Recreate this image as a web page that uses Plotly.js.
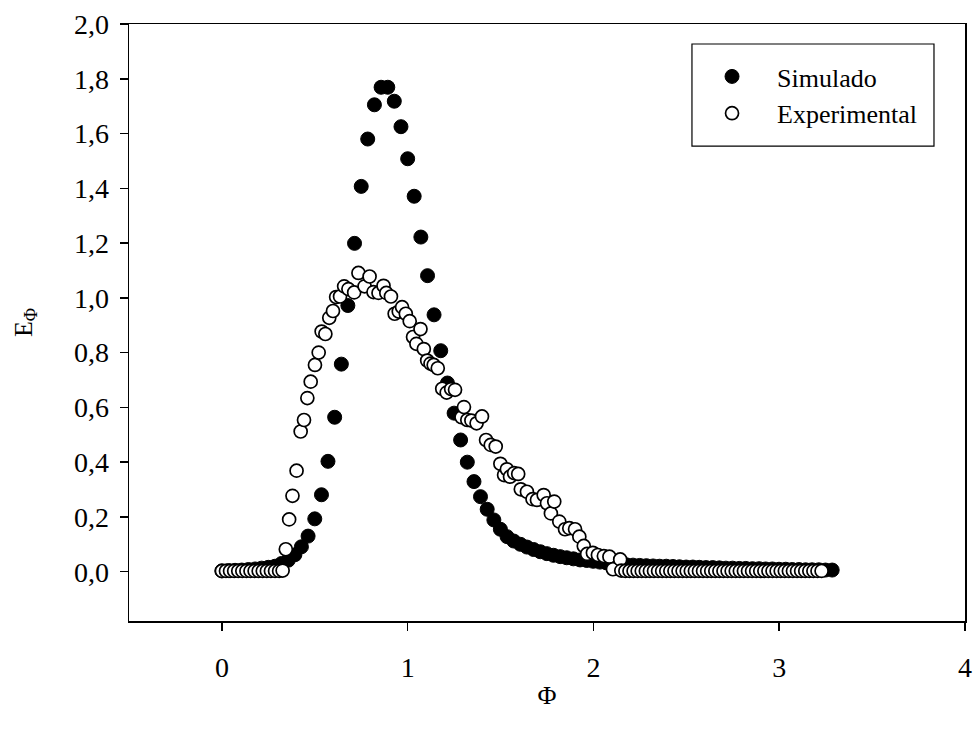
<!DOCTYPE html>
<html>
<head>
<meta charset="utf-8">
<script src="https://cdn.plot.ly/plotly-3.0.1.min.js"></script>
<style>html,body{margin:0;padding:0;background:#fff;}#chart{width:975px;height:731px;}</style>
</head>
<body>
<div id="chart"></div>
<script>
// Simulado (filled circles)
const simX = [0.000,0.036,0.071,0.107,0.143,0.179,0.214,0.250,0.286,0.321,0.357,0.393,0.428,0.464,0.500,0.536,0.571,0.607,0.643,0.678,
0.714,0.750,0.785,0.821,0.857,0.893,0.928,0.964,1.000,1.035,1.071,1.107,1.142,1.178,1.214,1.250,1.285,1.321,1.357,1.392,
1.428,1.464,1.499,1.535,1.571,1.607,1.642,1.678,1.714,1.749,1.785,1.821,1.856,1.892,1.928,1.964,1.999,2.035,2.071,2.106,
2.142,2.178,2.213,2.249,2.285,2.321,2.356,2.392,2.428,2.463,2.499,2.535,2.570,2.606,2.642,2.678,2.713,2.749,2.785,2.820,
2.856,2.892,2.927,2.963,2.999,3.035,3.070,3.106,3.142,3.177,3.213,3.249,3.285];
const simY = [0.003,0.004,0.005,0.006,0.008,0.010,0.013,0.016,0.020,0.030,0.042,0.062,0.091,0.130,0.193,0.281,0.403,0.564,0.758,0.972,
1.199,1.407,1.580,1.705,1.769,1.769,1.718,1.625,1.508,1.371,1.222,1.081,0.938,0.807,0.689,0.579,0.481,0.400,0.329,0.274,
0.228,0.189,0.155,0.128,0.112,0.100,0.090,0.081,0.073,0.066,0.060,0.055,0.051,0.047,0.043,0.041,0.038,0.035,0.032,0.030,
0.027,0.025,0.024,0.023,0.022,0.021,0.020,0.020,0.019,0.018,0.017,0.017,0.016,0.015,0.015,0.014,0.013,0.013,0.012,0.012,
0.011,0.011,0.010,0.010,0.009,0.009,0.008,0.008,0.007,0.007,0.007,0.006,0.006];

// Experimental (open circles)
const expX = [0.000,0.022,0.044,0.066,0.088,0.110,0.132,0.154,0.176,0.198,0.220,0.242,0.264,0.286,0.308,0.327,
0.344,0.362,0.380,0.402,0.424,0.442,0.460,0.478,0.501,0.521,0.537,0.557,0.578,0.598,0.615,0.636,0.658,0.681,0.712,0.735,
0.768,0.795,0.816,0.843,0.870,0.885,0.910,0.930,0.952,0.970,0.990,1.011,1.029,1.047,1.069,1.087,1.105,1.123,1.140,1.162,
1.186,1.210,1.234,1.255,1.290,1.303,1.321,1.343,1.371,1.400,1.422,1.447,1.474,1.499,1.519,1.534,1.551,1.573,1.595,1.609,
1.642,1.672,1.696,1.732,1.750,1.771,1.789,1.816,1.847,1.870,1.901,1.924,1.948,1.966,1.997,2.024,2.056,2.086,2.105,2.144,
2.150,2.172,2.194,2.216,2.238,2.260,2.282,2.304,2.326,2.348,2.370,2.392,2.414,2.436,2.458,2.480,2.502,2.524,2.546,2.568,
2.590,2.612,2.634,2.656,2.678,2.700,2.722,2.744,2.766,2.788,2.810,2.832,2.854,2.876,2.898,2.920,2.942,2.964,2.986,3.008,
3.030,3.052,3.074,3.096,3.118,3.140,3.162,3.184,3.206,3.228];
const expY = [0.003,0.003,0.003,0.003,0.003,0.003,0.003,0.003,0.003,0.003,0.003,0.003,0.003,0.003,0.003,0.004,
0.082,0.191,0.277,0.369,0.512,0.554,0.634,0.694,0.755,0.800,0.877,0.868,0.927,0.952,1.003,1.005,1.042,1.032,1.020,1.091,
1.042,1.078,1.021,1.018,1.044,1.018,1.005,0.942,0.950,0.966,0.942,0.915,0.857,0.832,0.886,0.813,0.771,0.760,0.755,0.743,
0.668,0.654,0.667,0.664,0.564,0.601,0.554,0.552,0.542,0.567,0.481,0.463,0.457,0.394,0.353,0.374,0.347,0.360,0.357,0.301,
0.292,0.265,0.262,0.280,0.250,0.213,0.256,0.183,0.155,0.159,0.155,0.128,0.094,0.065,0.069,0.061,0.057,0.055,0.009,0.045,
0.004,0.003,0.003,0.003,0.003,0.003,0.003,0.003,0.003,0.003,0.003,0.003,0.003,0.003,0.003,0.003,0.003,0.003,0.003,0.003,
0.003,0.003,0.003,0.003,0.003,0.003,0.003,0.003,0.003,0.003,0.003,0.003,0.003,0.003,0.003,0.003,0.003,0.003,0.003,0.003,
0.003,0.003,0.003,0.003,0.003,0.003,0.003,0.003,0.003,0.003];

const xTicks = [0, 1, 2, 3, 4];
const yTicks = [0, 0.2, 0.4, 0.6, 0.8, 1.0, 1.2, 1.4, 1.6, 1.8, 2.0];
const seriesNames = ['Simulado', 'Experimental'];

const FONT = '"Liberation Serif", "Times New Roman", serif';

const traces = [
  {
    x: simX, y: simY, type: 'scatter', mode: 'markers', name: seriesNames[0],
    marker: {symbol: 'circle', size: 14, color: '#000000', line: {color: '#000000', width: 1}}
  },
  {
    x: expX, y: expY, type: 'scatter', mode: 'markers', name: seriesNames[1],
    marker: {symbol: 'circle', size: 13, color: '#ffffff', line: {color: '#000000', width: 1.7}}
  }
];

const layout = {
  width: 975, height: 731,
  margin: {l: 129, r: 10, t: 24, b: 110, pad: 0},
  paper_bgcolor: '#ffffff', plot_bgcolor: '#ffffff',
  separators: ',.',
  font: {family: FONT, size: 26, color: '#000000'},
  showlegend: true,
  legend: {
    x: 0.6675, y: 0.9514, xanchor: 'left', yanchor: 'top',
    bgcolor: 'rgba(0,0,0,0)', borderwidth: 0,
    font: {family: FONT, size: 26, color: '#000000'},
    itemwidth: 80
  },
  shapes: [
    {type: 'rect', xref: 'paper', yref: 'paper', x0: 0.6734, x1: 0.9629, y0: 0.7956, y1: 0.9665,
     line: {color: '#000000', width: 1.2}, fillcolor: 'rgba(0,0,0,0)', layer: 'above'}
  ],
  xaxis: {
    range: [-0.5, 4], tickvals: xTicks, ticktext: xTicks.map(String),
    showline: true, mirror: true, linecolor: '#000000', linewidth: 1.5,
    ticks: 'outside', ticklen: 8, tickwidth: 1.5, tickcolor: '#000000',
    showgrid: false, zeroline: false, ticklabelstandoff: 13,
    tickfont: {family: FONT, size: 28},
    title: {text: 'Φ', font: {family: FONT, size: 26}, standoff: 3}
  },
  yaxis: {
    range: [-0.18, 2.0], tickvals: yTicks, tickformat: '.1f',
    showline: true, mirror: true, linecolor: '#000000', linewidth: 1.5,
    ticks: 'outside', ticklen: 8, tickwidth: 1.5, tickcolor: '#000000',
    showgrid: false, zeroline: false, ticklabelstandoff: 5,
    tickfont: {family: FONT, size: 28},
    title: {text: 'E<sub>Φ</sub>', font: {family: FONT, size: 26}, standoff: 34}
  }
};

Plotly.newPlot('chart', traces, layout, {displayModeBar: false, staticPlot: true});
</script>
</body>
</html>
